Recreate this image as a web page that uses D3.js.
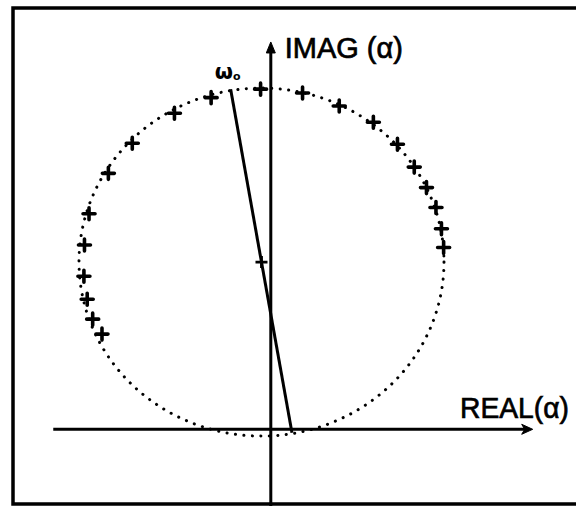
<!DOCTYPE html>
<html>
<head>
<meta charset="utf-8">
<script src="https://cdn.jsdelivr.net/npm/d3@7"></script>
<style>
  html, body { margin: 0; padding: 0; background: #fff; }
  svg { display: block; }
</style>
</head>
<body>
<svg id="chart" width="576" height="506"></svg>
<script>
// Locus of alpha in the complex plane: measured points (real, imag)
const realPart = [-0.327, -0.528, -0.759, -0.890, -0.996, -1.021, -1.024, -1.006, -0.976, -0.925,
                  -0.056, 0.174, 0.375, 0.562, 0.694, 0.786, 0.853, 0.905, 0.935, 0.947];
const imagPart = [1.906, 1.816, 1.644, 1.471, 1.239, 1.059, 0.880, 0.747, 0.633, 0.547,
                  1.955, 1.933, 1.858, 1.765, 1.638, 1.507, 1.389, 1.275, 1.153, 1.045];

// Fitted circle through the points
const circleCenter = [-0.051, 0.961];
const circleRadius = 1.0;

// Diameter drawn from the omega_0 point through the centre
const diameterEnds = [[-0.220, 1.954], [0.116, -0.020]];

// Axis labels
const xLabel = "REAL(α)";
const yLabel = "IMAG (α)";
const pointLabel = "ω";
const pointSub = "o";

const svg = d3.select("#chart");

const x = d3.scaleLinear().domain([-1.4, 1.6]).range([15.3, 562.8]);
const y = d3.scaleLinear().domain([-0.4, 2.4]).range([498.9, 11.7]);

// frame
svg.append("path")
  .attr("d", "M580,8H13V504H580")
  .attr("fill", "none")
  .attr("stroke", "#000")
  .attr("stroke-width", 3.5);

// dotted circle
svg.append("ellipse")
  .attr("cx", x(circleCenter[0]))
  .attr("cy", y(circleCenter[1]))
  .attr("rx", x(circleCenter[0] + circleRadius) - x(circleCenter[0]))
  .attr("ry", y(circleCenter[1] - circleRadius) - y(circleCenter[1]))
  .attr("fill", "none")
  .attr("stroke", "#000")
  .attr("stroke-width", 3)
  .attr("stroke-linecap", "round")
  .attr("stroke-dasharray", "0.1 8.4");

// axes
const g = svg.append("g").attr("stroke", "#000").attr("fill", "#000");

const xAxisY = y(0), yAxisX = x(0);
const xStart = x(-1.192), xEnd = x(1.435);
const yBottom = y(-0.45), yTop = y(2.226);

g.append("line")
  .attr("x1", xStart).attr("x2", xEnd - 6)
  .attr("y1", xAxisY).attr("y2", xAxisY)
  .attr("stroke-width", 3);
g.append("path")
  .attr("d", `M${xEnd},${xAxisY}L${xEnd - 11},${xAxisY - 5}L${xEnd - 8},${xAxisY}L${xEnd - 11},${xAxisY + 5}Z`)
  .attr("stroke-width", 1);

g.append("line")
  .attr("x1", yAxisX).attr("x2", yAxisX)
  .attr("y1", yBottom).attr("y2", yTop + 6)
  .attr("stroke-width", 3);
g.append("path")
  .attr("d", `M${yAxisX},${yTop}L${yAxisX - 4.5},${yTop + 11}L${yAxisX + 4.5},${yTop + 11}Z`)
  .attr("stroke-width", 1);

// diameter line
svg.append("line")
  .attr("x1", x(diameterEnds[0][0])).attr("y1", y(diameterEnds[0][1]))
  .attr("x2", x(diameterEnds[1][0])).attr("y2", y(diameterEnds[1][1]))
  .attr("stroke", "#000")
  .attr("stroke-width", 3);

// centre marker
svg.append("path")
  .attr("transform", `translate(${x(circleCenter[0])},${y(circleCenter[1])})`)
  .attr("d", "M-6,0H6M0,-6V6")
  .attr("stroke", "#000")
  .attr("stroke-width", 2.8);

// measured points
const pts = realPart.map((r, i) => [r, imagPart[i]]);
svg.append("g")
  .selectAll("path")
  .data(pts)
  .join("path")
  .attr("transform", d => `translate(${x(d[0])},${y(d[1])})`)
  .attr("d", "M-6,0H6M0,-6V6")
  .attr("stroke", "#000")
  .attr("stroke-width", 3.6)
  .attr("stroke-linecap", "round");

// labels
const font = "'Liberation Sans', Arial, sans-serif";
svg.append("text")
  .attr("x", yAxisX + 14).attr("y", 58)
  .attr("font-family", font).attr("font-size", 29)
  .attr("stroke", "#000").attr("stroke-width", 0.7)
  .attr("textLength", 118).attr("lengthAdjust", "spacingAndGlyphs")
  .text(yLabel);

svg.append("text")
  .attr("x", 460).attr("y", 418)
  .attr("font-family", font).attr("font-size", 30)
  .attr("stroke", "#000").attr("stroke-width", 0.7)
  .attr("textLength", 109).attr("lengthAdjust", "spacingAndGlyphs")
  .text(xLabel);

const w = svg.append("text")
  .attr("x", x(diameterEnds[0][0]) - 16).attr("y", y(diameterEnds[0][1]) - 10)
  .attr("font-family", "'DejaVu Sans', sans-serif").attr("font-weight", "bold").attr("font-size", 21);
w.append("tspan").text(pointLabel);
w.append("tspan").attr("font-size", 11).attr("dy", 1).text(pointSub);
</script>
</body>
</html>
